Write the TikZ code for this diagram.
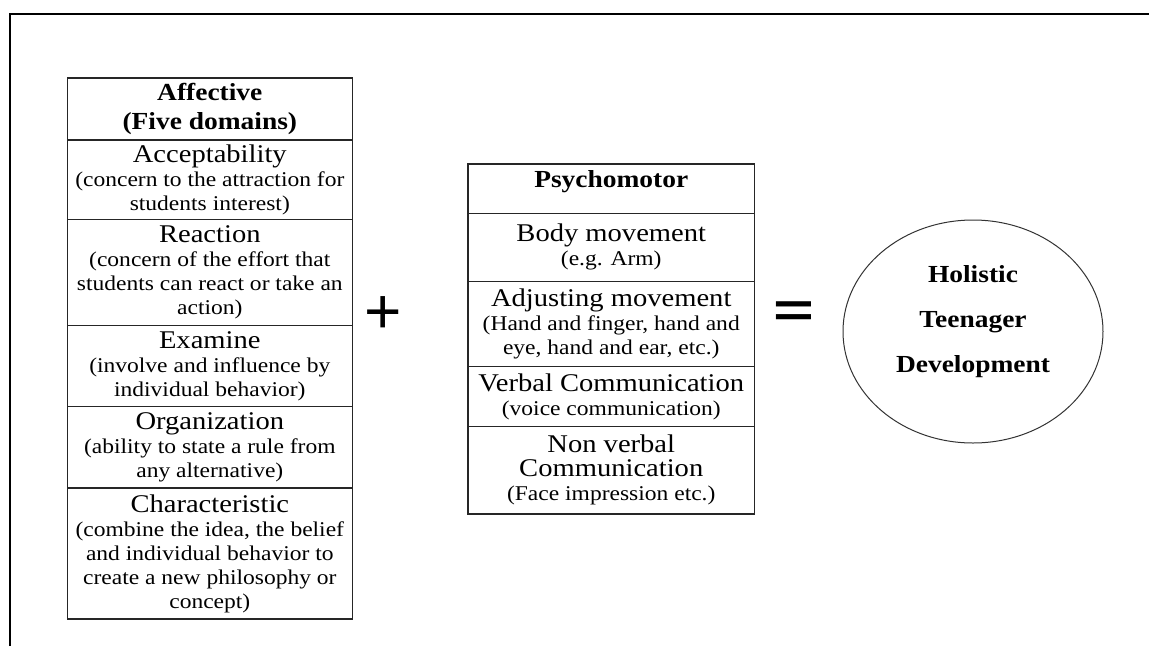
\documentclass[tikz,border=0pt]{standalone}
\usepackage{fontspec}
\usepackage{graphicx}
\setmainfont{Liberation Serif}[FakeStretch=1.12]
\newfontfamily\symfont{Liberation Sans}
\usetikzlibrary{shapes.geometric}
\newcommand\celltitle[1]{{\fontsize{25.5}{24}\selectfont #1}}
\begin{document}
\begin{tikzpicture}[x=1pt,y=-1pt,
  cell/.style={draw=black!85, line width=1.2pt, inner sep=0pt, anchor=north west,
    align=center, font=\fontsize{21}{24}\selectfont},
  headcell/.style={cell, font=\bfseries\fontsize{24.5}{29}\selectfont},
  opsign/.style={font=\symfont, inner sep=0pt, anchor=base},
  goal/.style={draw=black!80, line width=1pt, ellipse, inner sep=0pt,
    minimum width=260pt, minimum height=223pt, align=center,
    font=\bfseries\fontsize{24.5}{45}\selectfont, text depth=25pt}]
\useasboundingbox (0,0) rectangle (1149,646);
\fill[white] (0,0) rectangle (1149,646);
\draw[line width=2.5pt] (10,646) -- (10,14) -- (1149,14);

% Affective column
\node[headcell, minimum width=285pt, minimum height=62pt] (aff) at (66.7,77.3)
  {Affective\\(Five domains)};
\node[cell, minimum width=285pt, minimum height=79.7pt] (acc) at (66.7,139.3)
  {\celltitle{Acceptability}\\(concern to the attraction for\\students interest)};
\node[cell, minimum width=285pt, minimum height=106pt] (rea) at (66.7,219)
  {\celltitle{Reaction}\\(concern of the effort that\\students can react or take an\\action)};
\node[cell, minimum width=285pt, minimum height=81pt] (exa) at (66.7,325)
  {\celltitle{Examine}\\(involve and influence by\\individual behavior)};
\node[cell, minimum width=285pt, minimum height=81.3pt] (org) at (66.7,406)
  {\celltitle{Organization}\\(ability to state a rule from\\any alternative)};
\node[cell, minimum width=285pt, minimum height=131pt] (cha) at (66.7,487.3)
  {\celltitle{Characteristic}\\(combine the idea, the belief\\and individual behavior to\\create a new philosophy or\\concept)};

% Psychomotor column
\node[headcell, minimum width=286.7pt, minimum height=49.4pt, text depth=20pt] (psy) at (467.3,163.3)
  {Psychomotor};
\node[cell, minimum width=286.7pt, minimum height=68pt] (bod) at (467.3,212.7)
  {\celltitle{Body movement}\\(e.g. Arm)};
\node[cell, minimum width=286.7pt, minimum height=85.3pt] (adj) at (467.3,280.7)
  {\celltitle{Adjusting movement}\\(Hand and finger, hand and\\eye, hand and ear, etc.)};
\node[cell, minimum width=286.7pt, minimum height=60pt] (ver) at (467.3,366)
  {\celltitle{Verbal Communication}\\(voice communication)};
\node[cell, minimum width=286.7pt, minimum height=87.3pt] (non) at (467.3,426)
  {\celltitle{Non verbal}\\\celltitle{Communication}\\(Face impression etc.)};

% operators
\node[opsign] (plus) at (383,333.5) {\fontsize{64}{64}\selectfont +};
\node[opsign] (eq) at (794,326.6) {\bfseries\fontsize{56}{56}\selectfont\scalebox{1.25}[0.85]{=}};

% result
\node[goal] (hol) at (973,331.5) {Holistic\\Teenager\\Development};
\end{tikzpicture}
\end{document}
